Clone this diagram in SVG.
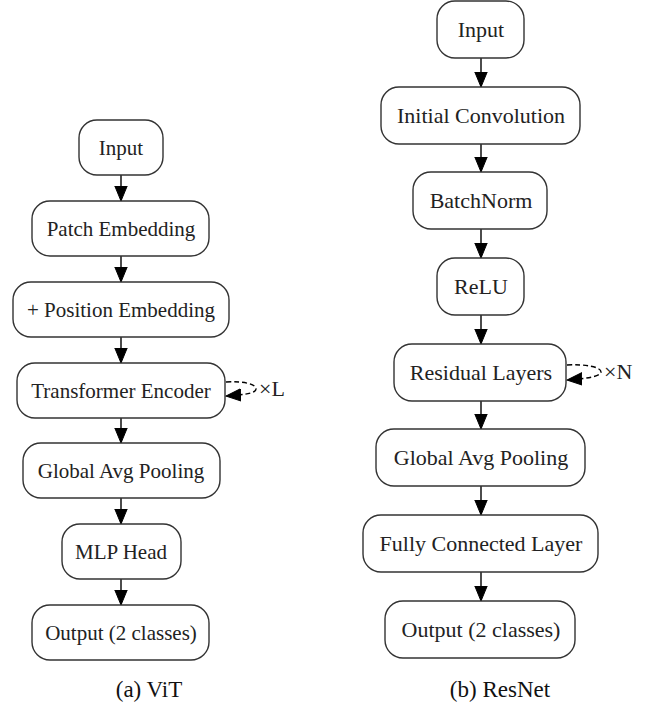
<svg xmlns="http://www.w3.org/2000/svg" width="660" height="708" viewBox="0 0 660 708">
<style>
.box{fill:#fff;stroke:#333;stroke-width:1.4}
.t{font-family:"Liberation Serif","Times New Roman",serif;fill:#222;text-anchor:middle}
.l{font-size:21px}
.r{font-size:22px}
.e{stroke:#000;stroke-width:1.4;fill:none}
.d{stroke:#000;stroke-width:1.4;fill:none;stroke-dasharray:5,3}
.lab{font-family:"Liberation Serif","Times New Roman",serif;fill:#222;font-size:22px}
.cap{font-family:"Liberation Serif","Times New Roman",serif;fill:#111;font-size:23px;text-anchor:middle}
</style>
<defs>
<marker id="ah" markerUnits="userSpaceOnUse" markerWidth="16" markerHeight="14" refX="15" refY="7" orient="auto" viewBox="0 0 16 14">
<path d="M0,0.8 L15,7 L0,13.2 z" fill="#000" stroke="#000" stroke-width="1"/>
</marker>
</defs>
<g id="connectors">
<path class="e" d="M121,175 V201" marker-end="url(#ah)"/>
<path class="e" d="M121,256 V282" marker-end="url(#ah)"/>
<path class="e" d="M121,337 V363" marker-end="url(#ah)"/>
<path class="e" d="M121,418 V443" marker-end="url(#ah)"/>
<path class="e" d="M121,498 V524" marker-end="url(#ah)"/>
<path class="e" d="M121,579 V605" marker-end="url(#ah)"/>
<path class="d" d="M226,382 C244,381 256,384 256,389 C256,394 240,395 226,396" marker-end="url(#ah)"/>
<text class="lab" x="259" y="396">×L</text>
<path class="e" d="M481,58 V87" marker-end="url(#ah)"/>
<path class="e" d="M481,144 V172" marker-end="url(#ah)"/>
<path class="e" d="M481,229 V258" marker-end="url(#ah)"/>
<path class="e" d="M481,315 V344" marker-end="url(#ah)"/>
<path class="e" d="M481,401 V429" marker-end="url(#ah)"/>
<path class="e" d="M481,486 V515" marker-end="url(#ah)"/>
<path class="e" d="M481,572 V601" marker-end="url(#ah)"/>
<path class="d" d="M567,365 C586,364 601,367 601,372 C601,377 582,379 567,380" marker-end="url(#ah)"/>
<text class="lab" x="604" y="379">×N</text>
</g>
<g id="vit-input"><rect class="box" x="79" y="120" width="84" height="55" rx="18"/><text class="t l" x="121" y="155">Input</text></g>
<g id="vit-patch"><rect class="box" x="32" y="201" width="177" height="55" rx="18"/><text class="t l" x="121" y="236">Patch Embedding</text></g>
<g id="vit-pos"><rect class="box" x="13" y="282" width="216" height="55" rx="18"/><text class="t l" x="121" y="317">+ Position Embedding</text></g>
<g id="vit-enc"><rect class="box" x="17" y="363" width="208" height="55" rx="18"/><text class="t l" x="121" y="398">Transformer Encoder</text></g>
<g id="vit-gap"><rect class="box" x="23" y="443" width="197" height="55" rx="18"/><text class="t l" x="121" y="478">Global Avg Pooling</text></g>
<g id="vit-mlp"><rect class="box" x="62" y="524" width="119" height="55" rx="18"/><text class="t l" x="121" y="559">MLP Head</text></g>
<g id="vit-out"><rect class="box" x="32" y="605" width="177" height="55" rx="18"/><text class="t l" x="121" y="640">Output (2 classes)</text></g>
<g id="res-input"><rect class="box" x="437" y="1" width="87" height="57" rx="18"/><text class="t r" x="481" y="37">Input</text></g>
<g id="res-conv"><rect class="box" x="381" y="87" width="199" height="57" rx="18"/><text class="t r" x="481" y="123">Initial Convolution</text></g>
<g id="res-bn"><rect class="box" x="413" y="172" width="134" height="57" rx="18"/><text class="t r" x="481" y="208">BatchNorm</text></g>
<g id="res-relu"><rect class="box" x="437" y="258" width="87" height="57" rx="18"/><text class="t r" x="481" y="294">ReLU</text></g>
<g id="res-layers"><rect class="box" x="394" y="344" width="172" height="57" rx="18"/><text class="t r" x="481" y="380">Residual Layers</text></g>
<g id="res-gap"><rect class="box" x="376" y="429" width="209" height="57" rx="18"/><text class="t r" x="481" y="465">Global Avg Pooling</text></g>
<g id="res-fc"><rect class="box" x="363" y="515" width="235" height="57" rx="18"/><text class="t r" x="481" y="551">Fully Connected Layer</text></g>
<g id="res-out"><rect class="box" x="385" y="601" width="190" height="57" rx="18"/><text class="t r" x="481" y="637">Output (2 classes)</text></g>
<g id="captions">
<text class="cap" x="149" y="697">(a) ViT</text>
<text class="cap" x="500" y="697">(b) ResNet</text>
</g>
</svg>
